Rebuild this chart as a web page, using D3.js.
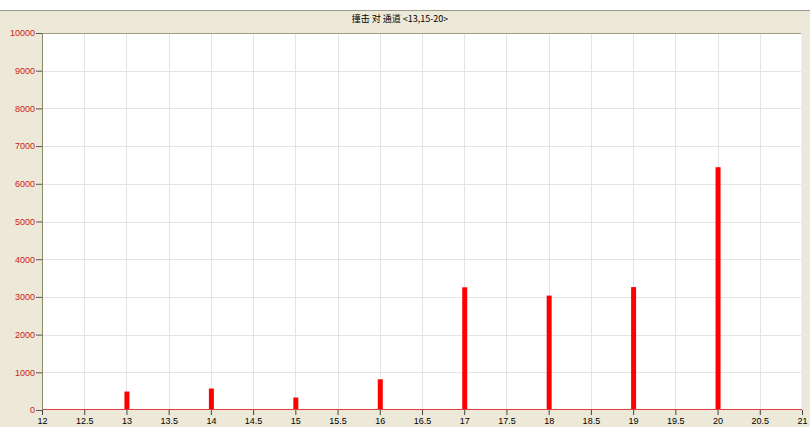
<!DOCTYPE html>
<html>
<head>
<meta charset="utf-8">
<script src="https://cdn.jsdelivr.net/npm/d3@7"></script>
<style>
body { margin: 0; background: #fff; }
text { font-family: "Liberation Sans", "Noto Sans CJK SC", sans-serif; }
</style>
</head>
<body>
<svg width="810" height="427"></svg>
<script>
var channels = [13, 14, 15, 16, 17, 18, 19, 20];
var hits = [490, 570, 330, 815, 3255, 3035, 3260, 6440];
var xTicks = [12, 12.5, 13, 13.5, 14, 14.5, 15, 15.5, 16, 16.5, 17, 17.5, 18, 18.5, 19, 19.5, 20, 20.5, 21];
var yTicks = [0, 1000, 2000, 3000, 4000, 5000, 6000, 7000, 8000, 9000, 10000];
var title = "撞击 对 通道 <13,15-20>";

var svg = d3.select("svg"),
    margin = {top: 33, right: 8, bottom: 17, left: 42},
    width = +svg.attr("width") - margin.left - margin.right,
    height = +svg.attr("height") - margin.top - margin.bottom;

// beige panel
svg.append("rect")
    .attr("x", 0).attr("y", 10)
    .attr("width", 810).attr("height", 417)
    .attr("fill", "#ece9d8");
svg.append("line")
    .attr("x1", 0).attr("x2", 810).attr("y1", 10.5).attr("y2", 10.5)
    .attr("stroke", "#9a9a8a");

svg.append("text")
    .attr("x", 400).attr("y", 22)
    .attr("text-anchor", "middle")
    .style("font-family", "'Noto Sans CJK SC', sans-serif")
    .style("font-size", "9px")
    .attr("fill", "#000")
    .text(title);

var g = svg.append("g").attr("transform", "translate(" + margin.left + "," + margin.top + ")");

var x = d3.scaleLinear().domain([12, 21]).range([0, width]);
var y = d3.scaleLinear().domain([0, 10000]).range([height, 0]);

g.append("rect")
    .attr("width", width).attr("height", height)
    .attr("fill", "#fff");

// grid
g.selectAll(".vgrid")
  .data(xTicks.slice(1))
  .enter().append("line")
    .attr("class", "vgrid")
    .attr("x1", function(d) { return Math.round(x(d)) + 0.5; })
    .attr("x2", function(d) { return Math.round(x(d)) + 0.5; })
    .attr("y1", 0).attr("y2", height)
    .attr("stroke", "#e4e4e4");
g.selectAll(".hgrid")
  .data(yTicks.slice(1))
  .enter().append("line")
    .attr("class", "hgrid")
    .attr("x1", 0).attr("x2", width)
    .attr("y1", function(d) { return Math.round(y(d)) + 0.5; })
    .attr("y2", function(d) { return Math.round(y(d)) + 0.5; })
    .attr("stroke", "#e4e4e4");

// frame
g.append("line").attr("x1", 0).attr("x2", width).attr("y1", 0.5).attr("y2", 0.5).attr("stroke", "#9c9c7c");
g.append("line").attr("x1", width - 0.5).attr("x2", width - 0.5).attr("y1", 0).attr("y2", height).attr("stroke", "#f4f4f0");

// bars
g.selectAll(".bar")
  .data(channels)
  .enter().append("rect")
    .attr("class", "bar")
    .attr("x", function(d) { return x(d) - 2; })
    .attr("width", 5)
    .attr("y", function(d, i) { return y(hits[i]); })
    .attr("height", function(d, i) { return height - y(hits[i]); })
    .attr("fill", "#ff0000");

// baseline
g.append("line")
    .attr("x1", 0).attr("x2", width)
    .attr("y1", height - 0.5).attr("y2", height - 0.5)
    .attr("stroke", "#e04040");

// axes
var yAxis = g.append("g")
    .call(d3.axisLeft(y).tickValues(yTicks).tickFormat(String).tickSize(6).tickSizeOuter(0));
yAxis.select(".domain").attr("stroke", "#8c8c6c");
yAxis.selectAll(".tick line").attr("stroke", "#555");
yAxis.selectAll(".tick text").attr("fill", "#d02020").style("font-size", "9px").attr("x", -7);

var xAxis = g.append("g")
    .attr("transform", "translate(0," + height + ")")
    .call(d3.axisBottom(x).tickValues(xTicks).tickFormat(String).tickSize(5).tickSizeOuter(0));
xAxis.select(".domain").remove();
xAxis.selectAll(".tick line").attr("stroke", "#444");
xAxis.selectAll(".tick text").attr("fill", "#000").style("font-size", "9px").attr("y", 8);
</script>
</body>
</html>
